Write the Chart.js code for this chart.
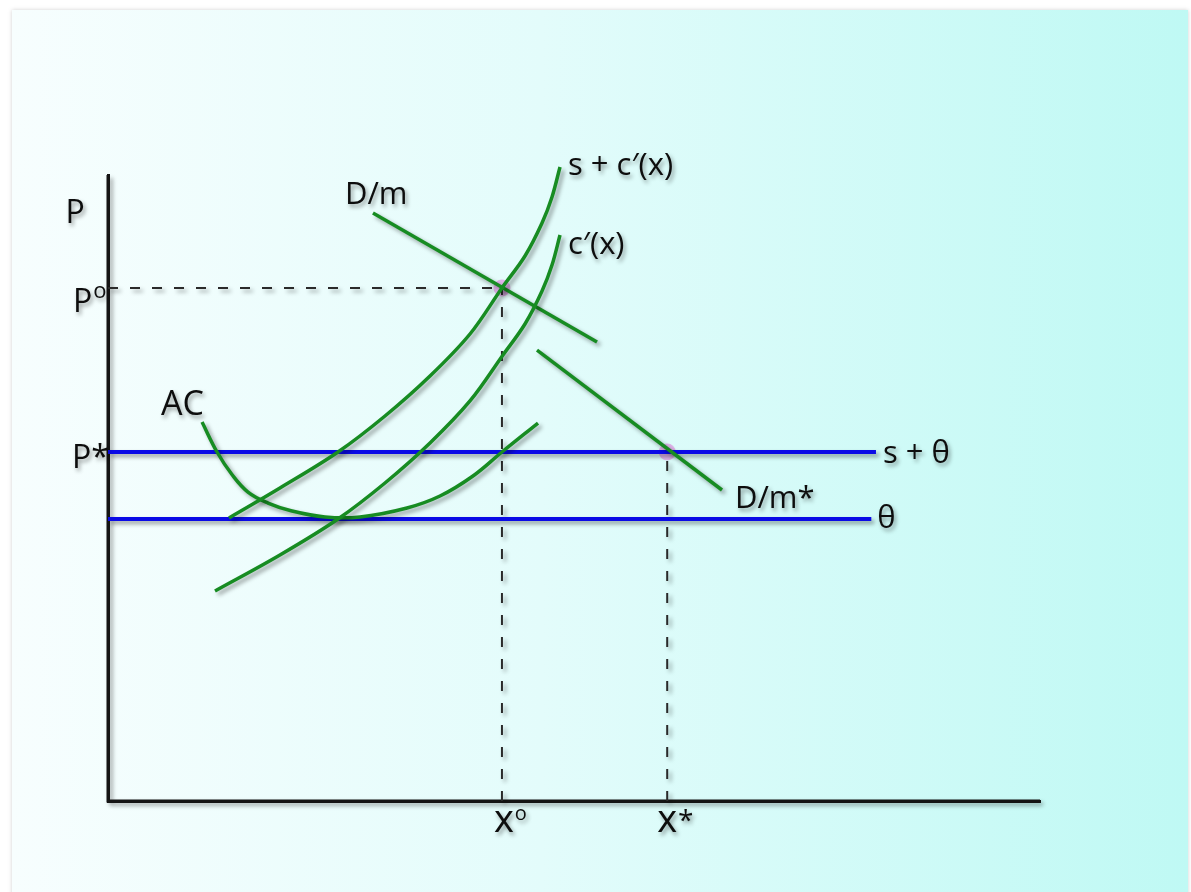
<!DOCTYPE html>
<html><head><meta charset="utf-8">
<script src="https://cdn.jsdelivr.net/npm/chart.js@4.4.1/dist/chart.umd.min.js"></script>
<style>html,body{margin:0;padding:0;background:#fff;overflow:hidden}#wrap{width:1191px;height:892px;position:relative}</style>
</head><body><div id="wrap"><canvas id="c" width="1191" height="892"></canvas></div>
<script>
// Reference levels (axis units 0..100)
const P_O = 81.95, P_STAR = 55.75, THETA = 45.05, X_O = 42.27, X_STAR = 60.0, X_END = 82.4;

// AC curve
const acX = [10.09, 11.70, 13.30, 15.02, 17.17, 19.74, 23.28, 27.04, 32.08, 35.62, 39.16, 42.27, 46.14];
const acY = [60.54, 55.75, 52.16, 49.36, 47.60, 46.33, 45.37, 45.37, 46.81, 48.72, 51.92, 55.75, 60.38];
// c'(x)
const mcX = [11.48, 18.45, 24.68, 29.72, 34.55, 38.84, 42.38, 44.74, 46.57, 47.64, 48.50];
const mcY = [33.55, 39.30, 45.05, 50.80, 57.19, 63.90, 71.25, 76.20, 81.47, 85.62, 90.42];
// s + c'(x)
const smcX = [12.98, 18.45, 24.68, 29.72, 34.55, 38.84, 42.27, 44.74, 46.57, 47.64, 48.50];
const smcY = [45.21, 50.00, 55.75, 61.50, 67.89, 74.60, 81.95, 87.06, 92.33, 96.49, 101.28];
// D/m and D/m*
const dmX = [28.43, 52.47];
const dmY = [93.93, 73.32];
const dmsX = [46.03, 65.88];
const dmsY = [72.04, 49.68];

const curveNames = ['s + c′(x)', 'c′(x)', 'D/m', 'D/m*', 'AC', 's + θ', 'θ'];
const axisTitle = 'P';
const yTickVals = [P_O, P_STAR];
const yTickMain = ['P', 'P*'];
const yTickSup = ['o', ''];
const xTickVals = [X_O, X_STAR];
const xTickMain = ['x', 'x'];
const xTickSup = ['o', '*'];

const pts = (xs, ys) => xs.map((x, i) => ({x, y: ys[i]}));

const GREEN = '#178c22', BLUE = '#0a0ae6', DASH = '#2a2a2a';
const FONT = '"Open Sans", "Noto Sans", sans-serif';

const datasets = [
  {id:'smc', data: pts(smcX, smcY), borderColor: GREEN, borderWidth: 3.5, tension: 0.35},
  {id:'mc', data: pts(mcX, mcY), borderColor: GREEN, borderWidth: 3.5, tension: 0.35},
  {id:'dm', data: pts(dmX, dmY), borderColor: GREEN, borderWidth: 3.5, tension: 0},
  {id:'dms', data: pts(dmsX, dmsY), borderColor: GREEN, borderWidth: 3.5, tension: 0},
  {id:'ac', data: pts(acX, acY), borderColor: GREEN, borderWidth: 3.5, tension: 0.4},
  {id:'sth', data: pts([0, X_END], [P_STAR, P_STAR]), borderColor: BLUE, borderWidth: 4, tension: 0},
  {id:'th', data: pts([0, X_END - 0.5], [THETA, THETA]), borderColor: BLUE, borderWidth: 4, tension: 0},
  {id:'d1', data: pts([0, X_O], [P_O, P_O]), borderColor: DASH, borderWidth: 2, borderDash: [10, 12], tension: 0},
  {id:'d2', data: pts([X_O, X_O], [0, P_O]), borderColor: DASH, borderWidth: 2, borderDash: [10, 12], tension: 0},
  {id:'d3', data: pts([X_STAR, X_STAR], [0, P_STAR]), borderColor: DASH, borderWidth: 2, borderDash: [10, 12], tension: 0},
  {id:'dots', data: pts([X_O, X_STAR], [P_O, P_STAR]), showLine: false, pointRadius: 8.5,
   pointBackgroundColor: 'rgba(225,135,225,0.62)', pointBorderWidth: 0, noShadow: true}
].map(d => Object.assign({pointRadius: 0, fill: false, clip: false}, d));

// label anchors: [dataset index, point index ('first'|'last'), dx, dy, baseline]
const labelSpec = [
  [0, 'last', 8, -1, 'middle'],
  [1, 'last', 8, 10, 'middle'],
  [2, 'first', -28, -9, 'alphabetic'],
  [3, 'last', 13, 18, 'alphabetic'],
  [4, 'first', -41, -7, 'alphabetic'],
  [5, 'last', 7, 11, 'alphabetic'],
  [6, 'last', 6, 9, 'alphabetic']
];

function withTextShadow(ctx) {
  ctx.shadowColor = 'rgba(0,0,0,0.4)';
  ctx.shadowBlur = 4;
  ctx.shadowOffsetX = 2;
  ctx.shadowOffsetY = 3;
}

const bgPlugin = {
  id: 'bg',
  beforeDraw(chart) {
    const ctx = chart.ctx, W = chart.width, H = chart.height, a = chart.chartArea;
    ctx.save();
    ctx.fillStyle = '#ffffff';
    ctx.fillRect(0, 0, W, H);
    const g = ctx.createLinearGradient(12, 0, 1188, 0);
    g.addColorStop(0, '#f7fefe');
    g.addColorStop(0.45, '#e3fcfb');
    g.addColorStop(1, '#bff9f4');
    ctx.shadowColor = 'rgba(0,0,0,0.18)';
    ctx.shadowBlur = 4;
    ctx.fillStyle = g;
    ctx.fillRect(12, 10, 1176, H);
    ctx.restore();
    // axis shadows
    ctx.save();
    ctx.strokeStyle = '#141414';
    ctx.lineWidth = 3;
    ctx.shadowColor = 'rgba(0,0,0,0.4)';
    ctx.shadowBlur = 4;
    ctx.shadowOffsetX = 3;
    ctx.shadowOffsetY = 3;
    ctx.beginPath();
    ctx.moveTo(a.left, a.top);
    ctx.lineTo(a.left, a.bottom);
    ctx.lineTo(a.right, a.bottom);
    ctx.stroke();
    ctx.restore();
  }
};

const shadowPlugin = {
  id: 'dsShadow',
  beforeDatasetDraw(chart, args) {
    const ctx = chart.ctx;
    ctx.save();
    if (!chart.data.datasets[args.index].noShadow) {
      ctx.shadowColor = 'rgba(0,0,0,0.38)';
      ctx.shadowBlur = 4;
      ctx.shadowOffsetX = 3;
      ctx.shadowOffsetY = 3;
    }
  },
  afterDatasetDraw(chart) {
    chart.ctx.restore();
  }
};

function drawSup(ctx, x, y, main, sup, mainSize, supSize, raise, gap) {
  ctx.font = mainSize + 'px ' + FONT;
  ctx.textAlign = 'left';
  ctx.textBaseline = 'alphabetic';
  ctx.fillText(main, x, y);
  const w = ctx.measureText(main).width;
  if (sup) {
    ctx.font = supSize + 'px ' + FONT;
    ctx.fillText(sup, x + w + gap, y - raise);
  }
}

const labelPlugin = {
  id: 'labels',
  afterDatasetsDraw(chart) {
    const ctx = chart.ctx, xs = chart.scales.x, ys = chart.scales.y;
    ctx.save();
    withTextShadow(ctx);
    ctx.fillStyle = '#0d0d0d';
    labelSpec.forEach((s, i) => {
      const data = chart.data.datasets[s[0]].data;
      const p = s[1] === 'first' ? data[0] : data[data.length - 1];
      const px = xs.getPixelForValue(p.x), py = ys.getPixelForValue(p.y);
      ctx.textAlign = 'left';
      ctx.textBaseline = s[4];
      ctx.font = (i === 4 ? 34 : 31) + 'px ' + FONT;
      ctx.fillText(curveNames[i], px + s[2], py + s[3]);
    });
    // axis title
    ctx.font = '32px ' + FONT;
    ctx.textAlign = 'center';
    ctx.textBaseline = 'alphabetic';
    ctx.fillText(axisTitle, xs.getPixelForValue(0) - 33, ys.getPixelForValue(100) + 48);
    // y ticks
    const ax = xs.getPixelForValue(0);
    const yOff = [[-35, 24, 14], [-36, 16, 0]];
    yTickVals.forEach((v, i) => {
      const py = ys.getPixelForValue(v);
      drawSup(ctx, ax + yOff[i][0], py + yOff[i][1], yTickMain[i], yTickSup[i], 32, 22, yOff[i][2], 1);
    });
    // x ticks
    const ay = ys.getPixelForValue(0);
    const xOff = [[-8, 31, 12, 20], [-10, 31, 2, 28]];
    xTickVals.forEach((v, i) => {
      const px = xs.getPixelForValue(v);
      drawSup(ctx, px + xOff[i][0], ay + xOff[i][1], xTickMain[i], xTickSup[i], 38, xOff[i][3], xOff[i][2], 1);
    });
    ctx.restore();
  }
};

const axisOpts = {
  type: 'linear', min: 0, max: 100,
  grid: {display: false, drawTicks: false},
  ticks: {display: false},
  border: {display: true, color: '#141414', width: 3}
};

new Chart(document.getElementById('c'), {
  type: 'line',
  data: {datasets},
  options: {
    responsive: false,
    animation: false,
    events: [],
    layout: {padding: {left: 108, right: 151, top: 175, bottom: 91}},
    plugins: {legend: {display: false}, tooltip: {enabled: false}},
    scales: {x: axisOpts, y: Object.assign({}, axisOpts)}
  },
  plugins: [bgPlugin, shadowPlugin, labelPlugin]
});
</script>
</body></html>
